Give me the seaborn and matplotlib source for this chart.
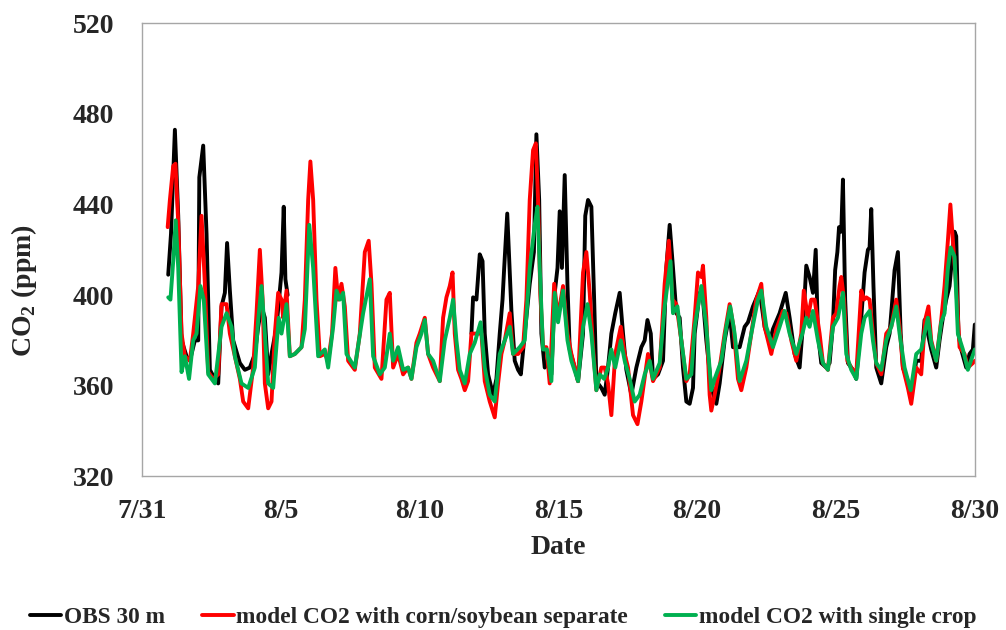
import numpy as np
import pandas as pd
import matplotlib
matplotlib.use("Agg")
import matplotlib.pyplot as plt
import seaborn as sns

# days since 7/31
obs_day = [0.95, 1.05, 1.19, 1.31, 1.43, 1.61, 1.73, 1.91, 2.03, 2.07, 2.21, 2.33, 2.45, 2.63, 2.75,
           2.87, 2.99, 3.07, 3.17, 3.29, 3.53, 3.71, 3.89, 4.07, 4.19, 4.31, 4.43, 4.55, 4.67, 4.85,
           5.03, 5.11, 5.17, 5.25,
           11.87, 11.93, 12.05, 12.17, 12.27, 12.35, 12.47, 12.65, 12.77, 12.89, 12.99, 13.05, 13.16,
           13.25, 13.31, 13.43, 13.55, 13.65, 13.79, 13.97, 14.12, 14.21, 14.31, 14.39, 14.51, 14.63,
           14.75, 14.87, 14.97, 15.05, 15.13, 15.23, 15.33, 15.41, 15.59, 15.71, 15.89, 15.97, 16.07,
           16.19, 16.29, 16.37, 16.55, 16.67, 16.79, 16.91, 17.05, 17.21, 17.33, 17.45, 17.63, 17.81,
           17.99, 18.11, 18.21, 18.33, 18.41, 18.59, 18.77, 18.89, 19.01, 19.13, 19.25, 19.37, 19.49,
           19.61, 19.73, 19.85, 19.91, 20.09, 20.21, 20.33, 20.51, 20.69, 20.81, 20.99, 21.17, 21.29,
           21.53, 21.71, 21.83, 22.01, 22.25, 22.43, 22.61, 22.73, 22.97, 23.19, 23.33, 23.51, 23.69,
           23.83, 23.93, 24.05, 24.17, 24.27, 24.35, 24.47, 24.65, 24.77, 24.89, 24.97, 25.05, 25.11,
           25.19, 25.25, 25.33, 25.43, 25.61, 25.73, 25.91, 26.03, 26.15, 26.21, 26.27, 26.35, 26.45,
           26.63, 26.81, 26.93, 27.01, 27.11, 27.23, 27.33, 27.41, 27.59, 27.71, 27.89, 28.07, 28.19,
           28.31, 28.43, 28.61, 28.73, 28.85, 28.97, 29.09, 29.17, 29.27, 29.33, 29.41, 29.51, 29.69,
           29.81, 29.93, 30.0]
obs_co2 = [409, 427, 473, 435, 380, 373, 371, 380, 380, 452, 466, 427, 367, 363, 361,
           395, 401, 423, 402, 380, 370, 367, 368, 374, 386, 395, 390, 365, 374, 386,
           410, 439, 407, 400,
           383, 399, 398, 418, 415, 383, 365, 356, 363, 383, 398, 412, 436,
           410, 393, 371, 367, 365, 383, 405, 419, 471, 442, 383, 368, 371,
           365, 401, 412, 437, 412, 453, 404, 376, 368, 362, 383, 435, 442,
           439, 398, 362, 359, 356, 368, 383, 392, 401, 383, 367, 356, 368,
           377, 380, 389, 383, 363, 365, 371, 412, 431, 412, 392, 390, 368,
           353, 352, 359, 383, 401, 398, 380, 359, 352, 361, 380, 392, 377,
           377, 386, 388, 395, 402, 386, 379, 385, 392, 401, 390, 374, 368,
           390, 413, 408, 401, 420, 383, 370, 368, 370, 387, 411, 419, 430,
           428, 451, 398, 370, 367, 363, 390, 410, 420, 421, 438, 404, 368,
           361, 377, 383, 395, 411, 419, 383, 368, 362, 356, 371, 371, 389,
           383, 376, 368, 380, 390, 398, 404, 415, 428, 426, 383, 376, 368,
           374, 376, 387]
# observations are missing between 8/5 and 8/11
obs_seg = [0] * 34 + [1] * (len(obs_day) - 34)

sep_day = [0.93, 1.01, 1.13, 1.21, 1.31, 1.43, 1.55, 1.73, 1.85, 2.03, 2.15, 2.27, 2.39, 2.57, 2.75,
           2.87, 3.05, 3.17, 3.35, 3.53, 3.65, 3.83, 4.01, 4.13, 4.25, 4.35, 4.43, 4.55, 4.67, 4.79,
           4.91, 5.03, 5.09, 5.21, 5.33, 5.51, 5.75, 5.87, 5.99, 6.07, 6.17, 6.29, 6.41, 6.59, 6.71,
           6.85, 6.97, 7.07, 7.19, 7.31, 7.43, 7.67, 7.85, 8.03, 8.17, 8.27, 8.39, 8.63, 8.81, 8.93,
           9.05, 9.23, 9.41, 9.59, 9.71, 9.89, 10.01, 10.19, 10.31, 10.49, 10.73, 10.85, 10.97, 11.09,
           11.19, 11.27, 11.39, 11.51, 11.63, 11.75, 11.87, 12.05, 12.23, 12.35, 12.53, 12.71, 12.83,
           12.95, 13.07, 13.25, 13.37, 13.55, 13.73, 13.85, 13.97, 14.09, 14.19, 14.27, 14.35, 14.45,
           14.57, 14.69, 14.85, 14.97, 15.05, 15.17, 15.33, 15.47, 15.71, 15.89, 16.01, 16.13, 16.25,
           16.37, 16.55, 16.67, 16.79, 16.91, 17.05, 17.25, 17.39, 17.51, 17.69, 17.85, 17.99, 18.23,
           18.41, 18.65, 18.83, 18.98, 19.11, 19.25, 19.43, 19.61, 19.73, 19.91, 20.03, 20.15, 20.21,
           20.33, 20.45, 20.51, 20.63, 20.81, 20.99, 21.17, 21.31, 21.47, 21.59, 21.77, 21.95, 22.13,
           22.31, 22.43, 22.67, 22.85, 23.09, 23.21, 23.39, 23.57, 23.75, 23.84, 23.99, 24.11, 24.23,
           24.41, 24.53, 24.71, 24.89, 25.01, 25.13, 25.19, 25.29, 25.41, 25.55, 25.73, 25.85, 25.91,
           26.01, 26.09, 26.21, 26.33, 26.45, 26.63, 26.81, 26.99, 27.17, 27.29, 27.41, 27.59, 27.71,
           27.89, 28.07, 28.21, 28.33, 28.43, 28.61, 28.79, 28.91, 29.03, 29.12, 29.21, 29.33, 29.45,
           29.63, 29.75, 29.93, 30.0]
sep_co2 = [430, 442, 457, 458, 432, 383, 373, 371, 383, 404, 435, 405, 366, 363, 365,
           396, 396, 383, 373, 363, 353, 350, 368, 392, 420, 398, 361, 350, 353, 383,
           401, 398, 390, 402, 373, 374, 377, 398, 442, 459, 442, 398, 373, 374, 371,
           383, 412, 398, 405, 395, 371, 367, 383, 419, 424, 405, 368, 363, 398, 401,
           368, 374, 365, 368, 363, 379, 383, 390, 374, 368, 362, 390, 399, 404,
           410, 383, 367, 363, 358, 362, 383, 383, 383, 362, 353, 346, 361,
           374, 380, 392, 374, 374, 377, 398, 442, 464, 467, 442, 401, 377,
           377, 361, 405, 392, 395, 404, 383, 374, 362, 410, 419, 401, 377,
           358, 368, 368, 361, 347, 374, 386, 374, 368, 347, 343, 353, 374,
           362, 368, 405, 424, 398, 396, 380, 362, 365, 390, 410, 408, 413,
           390, 356, 349, 356, 368, 383, 396, 386, 363, 358, 368, 383, 398,
           405, 386, 374, 385, 393, 392, 380, 371, 383, 402, 390, 398, 398,
           383, 370, 367, 390, 392, 404, 408, 398, 371, 368, 365, 390, 402,
           398, 399, 398, 383, 370, 365, 383, 386, 398, 386, 368, 359, 352,
           368, 365, 389, 395, 380, 371, 389, 404, 424, 440, 424, 404, 377,
           374, 368, 370, 371]

single_day = [0.95, 1.03, 1.13, 1.22, 1.31, 1.43, 1.55, 1.70, 1.85, 1.97, 2.11, 2.23, 2.39, 2.63, 2.87,
              3.05, 3.23, 3.35, 3.59, 3.83, 4.07, 4.19, 4.31, 4.43, 4.55, 4.73, 4.85, 4.93, 5.03, 5.21,
              5.33, 5.51, 5.75, 5.87, 6.03, 6.17, 6.35, 6.59, 6.71, 6.89, 7.01, 7.13, 7.25, 7.37, 7.67,
              7.97, 8.21, 8.33, 8.57, 8.75, 8.93, 9.05, 9.23, 9.41, 9.59, 9.71, 9.89, 10.07, 10.19, 10.31,
              10.49, 10.73, 10.91, 11.09, 11.21, 11.33, 11.45, 11.63, 11.81, 11.99, 12.2, 12.35, 12.53,
              12.71, 12.89, 13.07, 13.25, 13.37, 13.61, 13.79, 13.97, 14.15, 14.25, 14.33, 14.45, 14.59,
              14.75, 14.87, 14.99, 15.17, 15.33, 15.47, 15.71, 15.89, 16.05, 16.19, 16.37, 16.49, 16.65,
              16.79, 16.91, 17.05, 17.25, 17.39, 17.57, 17.75, 17.93, 18.11, 18.29, 18.41, 18.65, 18.83,
              19.04, 19.13, 19.29, 19.43, 19.61, 19.79, 19.91, 20.15, 20.33, 20.51, 20.63, 20.87, 21.05,
              21.19, 21.35, 21.53, 21.77, 21.95, 22.19, 22.31, 22.49, 22.73, 22.97, 23.15, 23.33, 23.57,
              23.79, 23.93, 24.05, 24.17, 24.35, 24.53, 24.71, 24.89, 25.07, 25.25, 25.37, 25.55, 25.73,
              25.91, 26.03, 26.21, 26.33, 26.45, 26.63, 26.81, 26.99, 27.17, 27.29, 27.47, 27.69, 27.89,
              28.07, 28.31, 28.43, 28.61, 28.79, 28.91, 29.03, 29.13, 29.27, 29.39, 29.57, 29.75, 30.0]
single_co2 = [399, 398, 415, 433, 412, 366, 373, 363, 380, 383, 404, 398, 365, 361, 386,
              392, 386, 373, 361, 359, 368, 389, 404, 383, 361, 359, 378, 390, 383, 396,
              373, 374, 377, 385, 431, 412, 373, 376, 368, 386, 402, 398, 401, 374, 368,
              392, 407, 373, 365, 368, 383, 371, 377, 367, 368, 363, 377, 383, 389, 374,
              371, 362, 380, 390, 398, 380, 367, 361, 374, 379, 388, 368, 356,
              353, 374, 380, 386, 374, 377, 380, 412, 431, 439, 412, 376, 376,
              362, 401, 388, 402, 380, 371, 362, 386, 396, 383, 358, 365, 363,
              368, 376, 368, 380, 371, 363, 353, 356, 365, 371, 363, 370, 395,
              415, 392, 395, 380, 363, 365, 386, 404, 386, 358, 363, 371, 386,
              395, 383, 362, 371, 383, 398, 402, 386, 377, 386, 393, 383, 374,
              383, 390, 386, 393, 380, 370, 367, 386, 390, 401, 374, 367, 363,
              383, 390, 393, 380, 370, 367, 380, 386, 395, 383, 368, 358, 374,
              376, 390, 379, 371, 388, 392, 412, 421, 417, 383, 376, 367, 376]

series_names = ["OBS 30 m", "model CO2 with corn/soybean separate", "model CO2 with single crop"]
series_colors = ["#000000", "#FF0000", "#00B050"]
tick_days = [0, 5, 10, 15, 20, 25, 30]
tick_labels = ["7/31", "8/5", "8/10", "8/15", "8/20", "8/25", "8/30"]


def main():
    df = pd.concat([
        pd.DataFrame({"day": obs_day, "co2": obs_co2, "series": series_names[0], "seg": obs_seg}),
        pd.DataFrame({"day": sep_day, "co2": sep_co2, "series": series_names[1], "seg": 0}),
        pd.DataFrame({"day": single_day, "co2": single_co2, "series": series_names[2], "seg": 0}),
    ], ignore_index=True)

    sns.set_style("white")
    plt.rcParams["font.family"] = ["Liberation Serif", "DejaVu Serif"]
    plt.rcParams["font.weight"] = "bold"
    plt.rcParams["mathtext.fontset"] = "custom"
    plt.rcParams["mathtext.rm"] = "Liberation Serif:bold"
    plt.rcParams["mathtext.bf"] = "Liberation Serif:bold"

    fig = plt.figure(figsize=(10.06, 6.3), dpi=100)
    ax = fig.add_axes([0.141, 0.244, 0.828, 0.719])

    sns.lineplot(data=df, x="day", y="co2", hue="series", units="seg", estimator=None,
                 hue_order=series_names, palette=series_colors, linewidth=2.8,
                 sort=False, ax=ax)

    ax.set_xlim(0, 30)
    ax.set_ylim(320, 520)
    ax.set_yticks([320, 360, 400, 440, 480, 520])
    ax.set_xticks(tick_days)
    ax.set_xticklabels(tick_labels)
    ax.tick_params(axis="both", labelsize=20, direction="in", length=6, color="#A6A6A6", width=1)
    ax.tick_params(axis="y", pad=20)
    ax.tick_params(axis="x", pad=16)
    for lab in ax.get_xticklabels() + ax.get_yticklabels():
        lab.set_fontweight("bold")
    for s in ax.spines.values():
        s.set_color("#A6A6A6")
        s.set_linewidth(1)

    ax.set_xlabel("Date", fontsize=20, fontweight="bold")
    ax.set_ylabel("CO$_2$ (ppm)", fontsize=20, fontweight="bold")
    ax.xaxis.set_label_coords(0.5, -0.13)
    ax.yaxis.set_label_coords(-0.124, 0.41)

    sns.move_legend(ax, "center", bbox_to_anchor=(0.5, 0.02), bbox_transform=fig.transFigure,
                    ncol=3, frameon=False, title=None, fontsize=16.8, handlelength=1.35,
                    handletextpad=0.1, columnspacing=1.6)
    for txt in ax.get_legend().get_texts():
        txt.set_fontweight("bold")

    fig.savefig("out.png", dpi=100)
    plt.close(fig)


if __name__ == "__main__":
    main()
